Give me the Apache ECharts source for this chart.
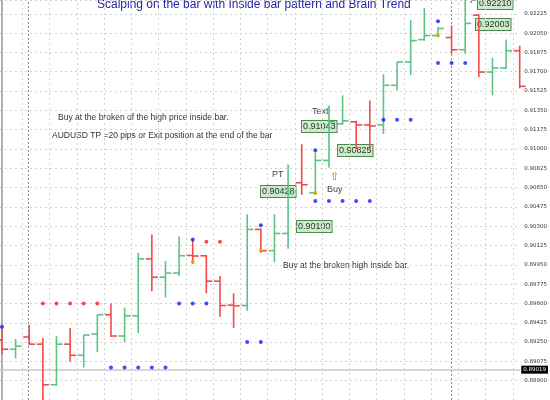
<!DOCTYPE html>
<html><head><meta charset="utf-8">
<script src="https://cdn.jsdelivr.net/npm/echarts@6/dist/echarts.min.js"></script>
<style>html,body{margin:0;padding:0;background:#fff}#c{width:550px;height:400px}</style>
</head><body><div id="c"></div>
<script>
const opens  =[0.89268,0.89185,0.89296,0.89231,0.88863,0.89231,0.89130,0.89323,0.89498,0.89305,0.89488,0.90004,0.89838,0.89875,0.90035,0.90032,0.89802,0.89585,0.89581,0.90271,0.90078,0.90234,0.90694,0.90602,0.90896,0.91228,0.91246,0.91218,0.91218,0.91577,0.91789,0.91991,0.92028,0.92010,0.91899,0.92212,0.91697,0.91734,0.91890];
const highs  =[0.89388,0.89277,0.89406,0.89286,0.89305,0.89378,0.89314,0.89498,0.89599,0.89562,0.90059,0.90225,0.89986,0.90206,0.90179,0.90040,0.89848,0.89691,0.90409,0.90280,0.90409,0.90860,0.91044,0.90970,0.91393,0.91485,0.91255,0.91439,0.91678,0.91789,0.92166,0.92276,0.92102,0.92120,0.92350,0.92220,0.91826,0.91991,0.91936];
const lows   =[0.89139,0.89102,0.89222,0.88679,0.88854,0.89075,0.89020,0.89158,0.89296,0.89250,0.89332,0.89710,0.89654,0.89848,0.89958,0.89691,0.89479,0.89378,0.89535,0.90059,0.89976,0.90096,0.90584,0.90593,0.90832,0.91220,0.90998,0.90998,0.91136,0.91531,0.91669,0.91982,0.92020,0.91862,0.91862,0.91651,0.91485,0.91724,0.91550];
const closes =[0.89185,0.89213,0.89231,0.88863,0.89231,0.89130,0.89314,0.89498,0.89305,0.89488,0.90004,0.89838,0.89875,0.90032,0.90030,0.89802,0.89581,0.89578,0.90271,0.90078,0.90234,0.90593,0.90676,0.90896,0.91246,0.91255,0.91218,0.91209,0.91577,0.91789,0.91982,0.92028,0.92092,0.91899,0.92138,0.91697,0.91734,0.91890,0.91568];
const redDots  =[[3,0.89599],[4,0.89599],[5,0.89599],[6,0.89599],[7,0.89599],[15,0.90160],[16,0.90160]];
const blueDots =[[0,0.89388],[8,0.89020],[9,0.89020],[10,0.89020],[11,0.89020],[12,0.89020],[13,0.89599],[14,0.89599],[15,0.89599],[14,0.90179],[18,0.89250],[19,0.89250],[19,0.90308],[23,0.90988],[23,0.90528],[24,0.90528],[25,0.90528],[26,0.90528],[27,0.90528],[28,0.91264],[29,0.91264],[30,0.91264],[32,0.92157],[32,0.91780],[33,0.91780],[34,0.91780]];
const orangeDots=[[14,0.89976],[19,0.90078],[23,0.90602],[32,0.92028]];
const tickStep=0.00175;
const yMin=0.88725, yMax=0.9235;
const lastPrice=0.89019;
const vGrid=[2,4,6,8,10,12,14,16,18,20,22,24,26,28,30,32,34,36,38];
const darkV=[2,33];

const bars=opens.map((o,i)=>[i,o,highs[i],lows[i],closes[i]]);
const chart=echarts.init(document.getElementById('c'));
chart.setOption({
  animation:false,
  grid:{left:0,right:23,top:0,bottom:0},
  xAxis:{type:'value',min:-0.145,max:38.04,show:false},
  yAxis:{type:'value',position:'right',min:yMin,max:yMax,interval:tickStep,
    axisLine:{show:true,lineStyle:{color:'#999',width:1.5}},axisTick:{show:false},
    axisLabel:{color:'#333',fontSize:5.5,fontFamily:'DejaVu Sans',margin:4,showMaxLabel:false,showMinLabel:false,formatter:v=>v.toFixed(5)},
    splitLine:{show:true,lineStyle:{color:'#d2d2d2',type:[2,3]}}},
  series:[
    {type:'custom',z:5,data:bars,encode:{x:0,y:[1,2,3,4]},
     renderItem:(p,api)=>{
       const x=api.coord([api.value(0),0])[0];
       const o=api.coord([0,api.value(1)])[1],h=api.coord([0,api.value(2)])[1],
             l=api.coord([0,api.value(3)])[1],c=api.coord([0,api.value(4)])[1];
       const up=api.value(4)>=api.value(1);
       const col=up?'#5cc285':'#f24a4a';
       const st={stroke:col,lineWidth:1.6};
       return {type:'group',children:[
         {type:'line',shape:{x1:x,y1:h,x2:x,y2:l},style:st},
         {type:'line',shape:{x1:x-6,y1:o,x2:x,y2:o},style:st},
         {type:'line',shape:{x1:x,y1:c,x2:x+6,y2:c},style:st}]};
     },
     markLine:{silent:true,symbol:'none',animation:false,
       lineStyle:{color:'#d2d2d2',type:[2,3],width:1},
       label:{show:false},
       data:vGrid.map(v=>({xAxis:v-0.5}))
         .concat(darkV.map(v=>({xAxis:v-0.05,lineStyle:{color:'#888',type:[2,2]}})))
         .concat([{yAxis:lastPrice,lineStyle:{color:'#c8c8c8',type:'solid',width:1.5},
            label:{show:true,position:'end',fontSize:5.5,fontFamily:'DejaVu Sans',formatter:lastPrice.toFixed(5),backgroundColor:'#000',color:'#fff',padding:[1,2],distance:1}}])
     }},
    {type:'scatter',data:redDots,symbolSize:4,itemStyle:{color:'#ff1a1a'},z:6},
    {type:'scatter',data:blueDots,symbolSize:4,itemStyle:{color:'#1a1aff'},z:6},
    {type:'scatter',data:orangeDots,symbolSize:4,itemStyle:{color:'#e8a000'},z:6}
  ],
  graphic:[
    {type:'text',left:97,top:-1,style:{text:'Scalping on the bar with Inside bar pattern and Brain Trend',fill:'#2525a8',font:'12px "Liberation Sans"'}},
    {type:'text',left:58,top:113,style:{text:'Buy at the broken of the high price inside bar.',fill:'#333',font:'8.5px "Liberation Sans"'}},
    {type:'text',left:52,top:131,style:{text:'AUDUSD TP =20 pips or Exit position at the end of the bar',fill:'#333',font:'8.5px "Liberation Sans"'}},
    {type:'text',left:272,top:170,style:{text:'PT',fill:'#444',font:'9px "Liberation Sans"'}},
    {type:'text',left:312,top:107,style:{text:'Text',fill:'#444',font:'9px "Liberation Sans"'}},
    {type:'text',left:330,top:172,style:{text:'⇧',fill:'#9a8a20',font:'11px "DejaVu Sans"'}},
    {type:'text',left:327,top:185,style:{text:'Buy',fill:'#444',font:'9px "Liberation Sans"'}},
    {type:'text',left:283,top:261,style:{text:'Buy at the broken high inside bar.',fill:'#333',font:'8.5px "Liberation Sans"'}},
    {type:'text',left:470,top:-4,style:{text:'PT',fill:'#444',font:'9px "Liberation Sans"'}},
    ...[[260,185,'0.90428'],[296,220,'0.90100'],[301,120,'0.91043'],[337,144,'0.90825'],[477,-3,'0.92210'],[475,18,'0.92003']].map(b=>(
      {type:'text',left:b[0],top:b[1],style:{text:b[2],fill:'#1a3a1a',font:'9px "Liberation Sans"',backgroundColor:'#cfe8cf',borderColor:'#4a8a4a',borderWidth:1,padding:[1,1]}}))
  ]
});
</script></body></html>
